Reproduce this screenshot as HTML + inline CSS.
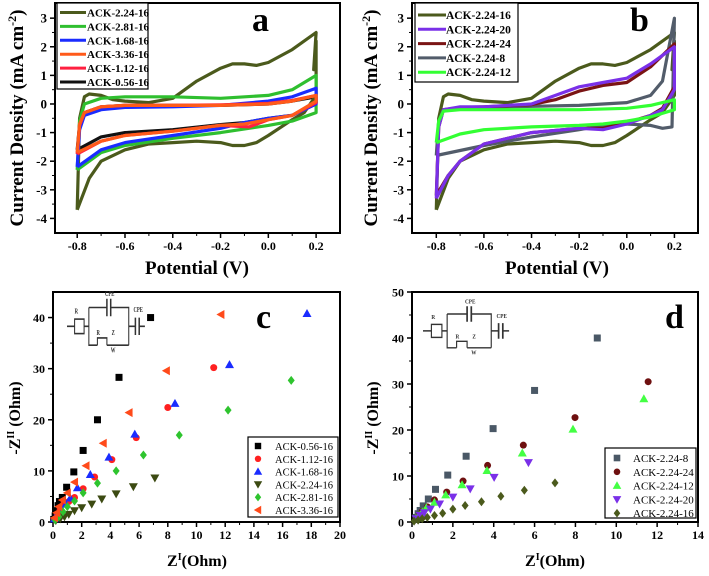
<!DOCTYPE html>
<html><head><meta charset="utf-8"><style>
body{margin:0;background:#fff;width:709px;height:571px;overflow:hidden}
svg text{font-family:"Liberation Serif",serif;font-weight:bold}
</style></head><body>
<svg id="fig" width="709" height="571" viewBox="0 0 709 571" xmlns="http://www.w3.org/2000/svg"></svg>
<script>
// ---- Panel a data (CV loops: [potential, current]) ----
const aNames=["ACK-2.24-16","ACK-2.81-16","ACK-1.68-16","ACK-3.36-16","ACK-1.12-16","ACK-0.56-16"];
const aColors=["#4b5a1c","#2fbf2f","#1a2cff","#ff5a1a","#ff2040","#111111"];
const aLoop224=[[-0.8,-3.7],[-0.79,-0.5],[-0.77,0.25],[-0.75,0.35],[-0.7,0.3],[-0.65,0.15],[-0.6,0.1],[-0.5,0.05],[-0.4,0.2],[-0.3,0.8],[-0.2,1.25],[-0.15,1.4],[-0.1,1.4],[-0.05,1.35],[0,1.45],[0.1,1.9],[0.2,2.5],[0.19,1.2],[0.2,2.2],[0.2,0.3],[0.15,-0.3],[0.1,-0.55],[0,-1.1],[-0.05,-1.35],[-0.1,-1.45],[-0.15,-1.45],[-0.2,-1.35],[-0.3,-1.3],[-0.4,-1.35],[-0.5,-1.4],[-0.6,-1.6],[-0.7,-2.0],[-0.75,-2.6],[-0.8,-3.7]];
const aLoop281=[[-0.8,-2.3],[-0.79,-0.6],[-0.77,0.0],[-0.7,0.2],[-0.6,0.25],[-0.4,0.25],[-0.2,0.2],[0,0.3],[0.1,0.5],[0.2,1.0],[0.2,-0.3],[0.1,-0.6],[0,-0.75],[-0.2,-1.0],[-0.4,-1.2],[-0.6,-1.45],[-0.7,-1.7],[-0.8,-2.3]];
const aLoop168=[[-0.8,-2.2],[-0.79,-0.9],[-0.77,-0.4],[-0.7,-0.2],[-0.6,-0.12],[-0.4,-0.1],[-0.2,-0.05],[0,0.1],[0.1,0.25],[0.2,0.55],[0.2,0],[0.1,-0.4],[0,-0.5],[-0.1,-0.65],[-0.2,-0.85],[-0.4,-1.1],[-0.6,-1.35],[-0.7,-1.6],[-0.8,-2.2]];
const aLoop336=[[-0.8,-1.7],[-0.79,-0.7],[-0.77,-0.3],[-0.7,-0.1],[-0.6,-0.05],[-0.4,-0.05],[-0.2,-0.05],[0,0],[0.1,0.1],[0.2,0.3],[0.2,0.1],[0.1,-0.4],[0,-0.55],[-0.1,-0.7],[-0.2,-0.75],[-0.4,-0.95],[-0.6,-1.1],[-0.7,-1.3],[-0.8,-1.7]];
const aLoop112=[[-0.8,-1.75],[-0.79,-0.75],[-0.77,-0.3],[-0.7,-0.1],[-0.6,-0.05],[-0.4,-0.05],[-0.2,-0.03],[0,0.02],[0.1,0.12],[0.2,0.3],[0.2,0.05],[0.1,-0.4],[0,-0.55],[-0.08,-0.8],[-0.2,-0.75],[-0.4,-0.95],[-0.6,-1.1],[-0.7,-1.3],[-0.8,-1.75]];
const aLoop056=[[-0.8,-1.6],[-0.79,-0.7],[-0.77,-0.3],[-0.7,-0.1],[-0.6,-0.05],[-0.4,-0.05],[-0.2,-0.05],[0,0],[0.1,0.1],[0.2,0.25],[0.2,0.05],[0.1,-0.4],[0,-0.5],[-0.1,-0.65],[-0.2,-0.72],[-0.4,-0.9],[-0.6,-1.0],[-0.7,-1.15],[-0.8,-1.6]];
// ---- Panel b data ----
const bNames=["ACK-2.24-16","ACK-2.24-20","ACK-2.24-24","ACK-2.24-8","ACK-2.24-12"];
const bColors=["#4b5a1c","#7a30e8","#7a1414","#525c6a","#33ff33"];
const bLoop20=[[-0.8,-3.3],[-0.79,-0.8],[-0.77,-0.2],[-0.7,-0.1],[-0.6,-0.1],[-0.4,0],[-0.3,0.3],[-0.2,0.6],[-0.1,0.75],[0,0.9],[0.1,1.4],[0.2,2.0],[0.2,0.5],[0.15,-0.2],[0.1,-0.4],[0,-0.7],[-0.1,-0.9],[-0.2,-0.85],[-0.4,-1.0],[-0.6,-1.4],[-0.7,-2.0],[-0.75,-2.5],[-0.8,-3.3]];
const bLoop24=[[-0.8,-3.2],[-0.79,-0.8],[-0.77,-0.2],[-0.7,-0.12],[-0.6,-0.1],[-0.4,-0.02],[-0.3,0.15],[-0.2,0.45],[-0.1,0.65],[0,0.75],[0.1,1.3],[0.2,2.1],[0.2,0.6],[0.15,-0.15],[0.1,-0.4],[0,-0.65],[-0.1,-0.85],[-0.2,-0.85],[-0.4,-1.0],[-0.6,-1.4],[-0.7,-2.0],[-0.75,-2.5],[-0.8,-3.2]];
const bLoop8=[[-0.8,-1.8],[-0.79,-0.6],[-0.77,-0.2],[-0.7,-0.15],[-0.5,-0.1],[-0.2,-0.05],[0,0.05],[0.1,0.3],[0.15,0.8],[0.2,3.0],[0.19,-0.8],[0.15,-0.85],[0.1,-0.75],[0,-0.7],[-0.1,-0.75],[-0.2,-0.9],[-0.4,-1.15],[-0.6,-1.45],[-0.8,-1.8]];
const bLoop12=[[-0.8,-1.35],[-0.79,-0.6],[-0.77,-0.25],[-0.7,-0.2],[-0.4,-0.2],[-0.2,-0.2],[0,-0.15],[0.1,-0.05],[0.2,0.15],[0.2,-0.2],[0.1,-0.45],[0,-0.6],[-0.1,-0.7],[-0.2,-0.75],[-0.4,-0.8],[-0.6,-0.9],[-0.7,-1.05],[-0.8,-1.35]];
// ---- Panel c data (Z', -Z'') ----
const cNames=["ACK-0.56-16","ACK-1.12-16","ACK-1.68-16","ACK-2.24-16","ACK-2.81-16","ACK-3.36-16"];
const cColors=["#000000","#ff2020","#1a2cff","#3c4a12","#2ec42e","#ff4a1a"];
const cShapes=["square","circle","up","down","diamond","left"];
const c056=[[0.05,0.5],[0.15,1.2],[0.25,2.2],[0.35,3.2],[0.45,4],[0.65,4.8],[0.95,6.8],[1.45,9.8],[2.1,14],[3.1,20],[4.6,28.3],[6.8,40]];
const c112=[[0.1,0.5],[0.3,1.5],[0.5,2.5],[0.75,3.5],[1.1,4],[1.5,4.8],[2.1,6.5],[2.9,8.8],[4.1,12.2],[5.8,16.5],[8.0,22.4],[11.2,30.2]];
const c168=[[0.1,0.6],[0.3,1.5],[0.6,2.5],[0.9,3.5],[1.2,4.7],[1.7,6.7],[2.6,9.3],[3.9,12.7],[5.7,17.2],[8.5,23.2],[12.3,30.8],[17.7,40.8]];
const c224=[[0.2,0.3],[0.5,0.6],[0.8,1],[1.1,1.5],[1.5,2.2],[2.0,2.8],[2.7,3.5],[3.4,4.5],[4.4,5.5],[5.6,6.9],[7.1,8.6]];
const c281=[[0.15,0.4],[0.4,1],[0.7,2],[1,3],[1.5,4.1],[2.1,5.7],[3.1,7.6],[4.4,10],[6.3,13.1],[8.8,17],[12.2,21.9],[16.6,27.7]];
const c336=[[0.1,0.8],[0.25,1.8],[0.4,3],[0.65,4.3],[1,5.7],[1.5,7.8],[2.3,11],[3.5,15.4],[5.3,21.4],[7.9,29.6],[11.7,40.6]];
// ---- Panel d data ----
const dNames=["ACK-2.24-8","ACK-2.24-24","ACK-2.24-12","ACK-2.24-20","ACK-2.24-16"];
const dColors=["#4a5866","#6e1010","#44ff44","#7a30e8","#4b5a1c"];
const dShapes=["square","circle","up","down","diamond"];
const d8=[[0.2,1],[0.3,1.8],[0.4,2.5],[0.55,3.5],[0.8,5],[1.15,7.1],[1.75,10.2],[2.65,14.3],[3.97,20.3],[6.0,28.6],[9.07,40]];
const d24=[[0.2,0.8],[0.35,1.5],[0.5,2.3],[0.75,3.3],[1.1,4.8],[1.7,6.5],[2.5,8.9],[3.7,12.3],[5.45,16.7],[7.98,22.7],[11.56,30.5]];
const d12=[[0.2,0.8],[0.35,1.4],[0.5,2.2],[0.7,3.1],[1.1,4.3],[1.65,5.9],[2.45,8.1],[3.67,11.2],[5.4,15],[7.88,20.2],[11.35,26.8]];
const d20=[[0.2,0.7],[0.4,1.4],[0.6,2],[0.9,2.8],[1.35,3.9],[2.0,5.4],[2.85,7.2],[4.02,9.7],[5.7,12.9]];
const d16=[[0.1,0.2],[0.3,0.4],[0.5,0.7],[0.75,1],[1.1,1.4],[1.5,1.9],[2.0,2.8],[2.6,3.6],[3.4,4.4],[4.35,5.6],[5.5,6.9],[7.0,8.5]];
const cvXTicks=["-0.8","-0.6","-0.4","-0.2","0.0","0.2"];
const cvYTicks=["3","2","1","0","-1","-2","-3","-4"];
const cXTicks=["0","2","4","6","8","10","12","14","16","18","20"];
const cYTicks=["0","10","20","30","40"];
const dXTicks=["0","2","4","6","8","10","12","14"];
const dYTicks=["0","10","20","30","40","50"];

const NS="http://www.w3.org/2000/svg";
const svg=document.getElementById('fig');
function mk(tag,attrs,parent,txt){const e=document.createElementNS(NS,tag);for(const k in attrs)e.setAttribute(k,attrs[k]);if(txt!==undefined)e.textContent=txt;(parent||svg).appendChild(e);return e;}
function axes(L,R,T,B,x0,x1,y0,y1){return{sx:v=>L+(v-x0)/(x1-x0)*(R-L),sy:v=>B-(v-y0)/(y1-y0)*(B-T)};}

function frame(g,L,R,T,B,ax,xt,yt,yfs){
  const box=mk('rect',{x:L,y:T,width:R-L,height:B-T,fill:'none',stroke:'#000','stroke-width':2},g);
  
  const xa=mk('g',{},g);
  xt.forEach(t=>{const v=parseFloat(t),x=ax.sx(v);mk('line',{x1:x,x2:x,y1:B,y2:B+5,stroke:'#000','stroke-width':1.5},xa);
    const tx=mk('text',{x:x,y:B+17,'text-anchor':'middle','font-size':12},xa,t);});
  for(let i=0;i<xt.length-1;i++){const x=(ax.sx(parseFloat(xt[i]))+ax.sx(parseFloat(xt[i+1])))/2;mk('line',{x1:x,x2:x,y1:B,y2:B+3,stroke:'#000','stroke-width':1},xa);}
  const ya=mk('g',{},g);
  yt.forEach(t=>{const v=parseFloat(t),y=ax.sy(v);mk('line',{x1:L-5,x2:L,y1:y,y2:y,stroke:'#000','stroke-width':1.5},ya);
    const tx=mk('text',{x:L-8,y:y+4.5,'text-anchor':'end','font-size':yfs||13},ya,t);});
  const yv=yt.map(parseFloat).sort((a,b)=>a-b);
  for(let i=0;i<yv.length-1;i++){const y=(ax.sy(yv[i])+ax.sy(yv[i+1]))/2;mk('line',{x1:L-3,x2:L,y1:y,y2:y,stroke:'#000','stroke-width':1},ya);}
}
function loop(g,ax,pts,color,name){
  const d=pts.map((p,i)=>(i?'L':'M')+ax.sx(p[0]).toFixed(1)+','+ax.sy(p[1]).toFixed(1)).join(' ');
  const p=mk('path',{d:d,fill:'none',stroke:color,'stroke-width':3.2,'stroke-linejoin':'round'},g);
  
}
function marker(g,shape,x,y,color,s){
  s=s||4;let e;
  if(shape==='square')e=mk('rect',{x:x-s,y:y-s,width:2*s,height:2*s,fill:color},g);
  else if(shape==='circle')e=mk('circle',{cx:x,cy:y,r:s,fill:color},g);
  else{let p;
    if(shape==='up')p=[[x,y-s-1],[x+s+1,y+s],[x-s-1,y+s]];
    else if(shape==='down')p=[[x,y+s+1],[x+s+1,y-s],[x-s-1,y-s]];
    else if(shape==='left')p=[[x-s-1,y],[x+s,y-s-1],[x+s,y+s+1]];
    else p=[[x,y-s-1],[x+s,y],[x,y+s+1],[x-s,y]];
    e=mk('polygon',{points:p.map(q=>q.join(',')).join(' '),fill:color},g);}
  return e;
}
function circuit(g,tf){
  const c=mk('g',{transform:tf,stroke:'#333','stroke-width':1.1,fill:'none'},g);
  
  mk('path',{d:'M0,23 H8 M18,23 H23 M23,10 H42 M46,10 H65 V23 M23,10 V36 H32 M42,36 H65 V36 M65,23 H72 M76,23 H82 M65,23 V36'},c);
  mk('rect',{x:8,y:18,width:10,height:10},c);
  mk('path',{d:'M32,36 v-5 h10 v5'},c);
  mk('path',{d:'M42,4 V16 M46,4 V16 M72,17 V29 M76,17 V29','stroke-width':1.6},c);
  [['R',8,14],['CPE',40,2],['CPE',70,13],['R',31,29],['Z',47,29],['W',46,41]].forEach(t=>{mk('text',{x:t[1],y:t[2],'font-size':5,fill:'#333',stroke:'none'},c,t[0]);});
}
function legendBox(g,x,y,w,h,name){const r=mk('rect',{x:x,y:y,width:w,height:h,fill:'#fff',stroke:'#000','stroke-width':1.2},g);}

// ---------- Panel a ----------
(function(){
  const g=mk('g',{});
  const L=55,R=340,T=3,B=233;const ax=axes(L,R,T,B,-0.893,0.3,-4.51,3.53);
  frame(g,L,R,T,B,ax,cvXTicks,cvYTicks);
  loop(g,ax,aLoop056,aColors[5],'curve-0.56-16');loop(g,ax,aLoop224,aColors[0],'curve-2.24-16');loop(g,ax,aLoop281,aColors[1],'curve-2.81-16');loop(g,ax,aLoop168,aColors[2],'curve-1.68-16');loop(g,ax,aLoop112,aColors[4],'curve-1.12-16');loop(g,ax,aLoop336,aColors[3],'curve-3.36-16');
  legendBox(g,57,3,91,86,'legend');
  aNames.forEach((n,i)=>{const y=12.5+i*13.9;const e=mk('g',{},g);
    mk('line',{x1:60,x2:86,y1:y,y2:y,stroke:aColors[i],'stroke-width':3},e);mk('text',{x:87,y:y+4,'font-size':11},e,n);});
  const l=mk('text',{x:252,y:31,'font-size':34},g,'a');
  const xt=mk('text',{x:197,y:274,'text-anchor':'middle','font-size':19},g,'Potential (V)');
  const yt=mk('text',{transform:'translate(23,118) rotate(-90)','text-anchor':'middle','font-size':19},g);
  yt.innerHTML='Current Density (mA cm<tspan dy="-7" font-size="12">-2</tspan><tspan dy="7">)</tspan>';
})();
// ---------- Panel b ----------
(function(){
  const g=mk('g',{});
  const L=412,R=698,T=3,B=233;const ax=axes(L,R,T,B,-0.902,0.299,-4.51,3.53);
  frame(g,L,R,T,B,ax,cvXTicks,cvYTicks);
  loop(g,ax,aLoop224,bColors[0],'curve-2.24-16');loop(g,ax,bLoop8,bColors[3],'curve-2.24-8');loop(g,ax,bLoop24,bColors[2],'curve-2.24-24');loop(g,ax,bLoop20,bColors[1],'curve-2.24-20');loop(g,ax,bLoop12,bColors[4],'curve-2.24-12');
  legendBox(g,415,3,103,79,'legend');
  bNames.forEach((n,i)=>{const y=15+i*14.3;const e=mk('g',{},g);
    mk('line',{x1:418,x2:446,y1:y,y2:y,stroke:bColors[i],'stroke-width':3},e);mk('text',{x:446,y:y+4,'font-size':11.5},e,n);});
  const l=mk('text',{x:630,y:31,'font-size':34},g,'b');
  const xt=mk('text',{x:557,y:274,'text-anchor':'middle','font-size':19},g,'Potential (V)');
  const yt=mk('text',{transform:'translate(377,118) rotate(-90)','text-anchor':'middle','font-size':19},g);
  yt.innerHTML='Current Density (mA cm<tspan dy="-7" font-size="12">-2</tspan><tspan dy="7">)</tspan>';
})();
// ---------- Panel c ----------
(function(){
  const g=mk('g',{});
  const L=53,R=340,T=292,B=522;const ax=axes(L,R,T,B,0,20,0,45);
  frame(g,L,R,T,B,ax,cXTicks,cYTicks,12);
  circuit(g,'translate(67,293) scale(0.95,1.45)');
  [c056,c112,c168,c224,c281,c336].forEach((s,i)=>{const sg=mk('g',{},g);
    s.forEach(p=>{const m=marker(sg,cShapes[i],ax.sx(p[0]),ax.sy(p[1]),cColors[i],3.5);});});
  legendBox(g,248,437,90,80,'legend');
  cNames.forEach((n,i)=>{const y=446+i*12.8;const e=mk('g',{},g);
    marker(e,cShapes[i],258,y,cColors[i],3.2);mk('text',{x:275,y:y+4,'font-size':10.5,style:'font-weight:normal'},e,n);});
  const l=mk('text',{x:256,y:328,'font-size':34},g,'c');
  const xt=mk('text',{x:197,y:566,'text-anchor':'middle','font-size':16},g);
  xt.innerHTML='Z<tspan dy="-6" font-size="10">I</tspan><tspan dy="6">(Ohm)</tspan>';
  const yt=mk('text',{transform:'translate(20,418) rotate(-90)','text-anchor':'middle','font-size':16},g);
  yt.innerHTML='-Z<tspan dy="-6" font-size="10">II</tspan><tspan dy="6"> (Ohm)</tspan>';
})();
// ---------- Panel d ----------
(function(){
  const g=mk('g',{});
  const L=412,R=698,T=292,B=522;const ax=axes(L,R,T,B,0,14,0,50);
  frame(g,L,R,T,B,ax,dXTicks,dYTicks,12);
  circuit(g,'translate(423,301) scale(1.05,1.3)');
  [d8,d24,d12,d20,d16].forEach((s,i)=>{const sg=mk('g',{},g);
    s.forEach(p=>{const m=marker(sg,dShapes[i],ax.sx(p[0]),ax.sy(p[1]),dColors[i],3.5);});});
  legendBox(g,605,448,91,70,'legend');
  dNames.forEach((n,i)=>{const y=458+i*13.8;const e=mk('g',{},g);
    marker(e,dShapes[i],617,y,dColors[i],3.3);mk('text',{x:633,y:y+4,'font-size':11,style:'font-weight:normal'},e,n);});
  const l=mk('text',{x:665,y:328,'font-size':34},g,'d');
  const xt=mk('text',{x:555,y:566,'text-anchor':'middle','font-size':16},g);
  xt.innerHTML='Z<tspan dy="-6" font-size="10">I</tspan><tspan dy="6">(Ohm)</tspan>';
  const yt=mk('text',{transform:'translate(378,418) rotate(-90)','text-anchor':'middle','font-size':16},g);
  yt.innerHTML='-Z<tspan dy="-6" font-size="10">II</tspan><tspan dy="6"> (Ohm)</tspan>';
})();
</script>
</body></html>
